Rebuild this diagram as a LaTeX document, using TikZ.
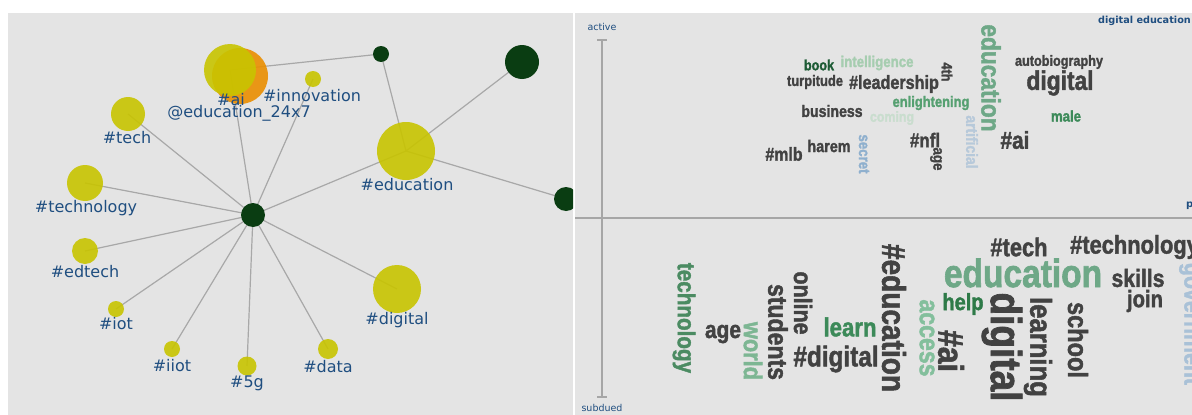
\documentclass[tikz,border=0pt]{standalone}
\usepackage{fontspec}
\setmainfont{DejaVu Sans}
\newfontfamily\cloudfont{Liberation Sans}[FakeStretch=0.85,FakeBold=1.6]
\usetikzlibrary{positioning,backgrounds}

\definecolor{panelgray}{HTML}{E4E4E4}
\definecolor{tagyellow}{HTML}{C8C400}
\definecolor{tagorange}{HTML}{EA8E00}
\definecolor{hubgreen}{HTML}{0A3D12}
\definecolor{linkgray}{HTML}{A8A8A8}
\definecolor{labelblue}{HTML}{1F4E80}
\definecolor{axisgray}{HTML}{A6A6A6}
\definecolor{cdark}{HTML}{424242}
\definecolor{cgreenD}{HTML}{1E5C36}
\definecolor{cgreenL}{HTML}{A6CDB0}
\definecolor{cgreenM}{HTML}{6EA887}
\definecolor{cgreenE}{HTML}{56A071}
\definecolor{cgreenP}{HTML}{C9DDCE}
\definecolor{cgreenN}{HTML}{3C8A59}
\definecolor{cgreenT}{HTML}{4B8B62}
\definecolor{cgreenW}{HTML}{7DB693}
\definecolor{cgreenA}{HTML}{83BF9C}
\definecolor{cgreenH}{HTML}{2E7A48}
\definecolor{cblueL}{HTML}{B7C9DA}
\definecolor{cblueM}{HTML}{8FB0CE}
\definecolor{cblueG}{HTML}{A9C1D7}

\tikzset{
  tag/.style={circle, inner sep=0pt, fill=tagyellow, fill opacity=0.9, minimum size=#1},
  user/.style={circle, inner sep=0pt, fill=tagorange, fill opacity=0.9, minimum size=#1},
  hub/.style={circle, inner sep=0pt, fill=hubgreen, minimum size=#1},
  tagname/.style={inner sep=0pt, text=labelblue, font=\fontsize{16}{16}\selectfont},
  link/.style={draw=linkgray, line width=1.2pt},
  wd/.style={inner sep=0pt, font=\cloudfont\bfseries\fontsize{#1}{#1}\selectfont},
  vwd/.style={wd=#1, rotate=-90},
  axisline/.style={draw=axisgray, line width=1.3pt},
  axisname/.style={inner sep=0pt, text=labelblue, font=\fontsize{9.5}{9.5}\selectfont},
}

\begin{document}
\begin{tikzpicture}[x=1pt,y=-1pt]
\useasboundingbox (0,0) rectangle (1192,415);
\begin{scope}[on background layer]
  \fill[panelgray] (8,13) rectangle (573,415);
  \fill[panelgray] (575,13) rectangle (1192,415);
\end{scope}

% hashtag network
\begin{scope}
  \clip (8,13) rectangle (573,415);
  \node[hub=24] (c) at (253,215) {};
  \node[user=56] (edu24) at (240,76) {};
  \node[tag=52] (ai) at (230,70) {};
  \node[hub=16] (n1) at (381,54) {};
  \node[hub=34] (n2) at (522,62) {};
  \node[hub=24] (n3) at (566,199) {};
  \node[tag=16] (innov) at (313,79) {};
  \node[tag=34] (tech) at (128,114) {};
  \node[tag=58] (edu) at (406,151) {};
  \node[tag=36] (technology) at (85,183) {};
  \node[tag=26] (edtech) at (85,251) {};
  \node[tag=16] (iot) at (116,309) {};
  \node[tag=16] (iiot) at (172,349) {};
  \node[tag=19] (fiveg) at (247,366) {};
  \node[tag=20] (data) at (328,349) {};
  \node[tag=48] (digital) at (397,289) {};

  \node[tagname] (ailbl) at (231,100) {\#ai};
  \node[tagname] (edu24lbl) at (239,113) {@education\_24x7};
  \node[tagname] (innovlbl) at (312,96) {\#innovation};
  \node[tagname] (techlbl) at (127,138) {\#tech};
  \node[tagname] (edulbl) at (407,185) {\#education};
  \node[tagname] (technologylbl) at (86,208) {\#technology};
  \node[tagname] (edtechlbl) at (85,272) {\#edtech};
  \node[tagname] (iotlbl) at (116,324) {\#iot};
  \node[tagname] (iiotlbl) at (172,366) {\#iiot};
  \node[tagname] (fiveglbl) at (247,383) {\#5g};
  \node[tagname] (datalbl) at (328,367) {\#data};
  \node[tagname] (digitallbl) at (397,320) {\#digital};
\end{scope}

\begin{scope}[on background layer]
  \foreach \t in {ai,innov,tech,edu,technology,edtech,iot,iiot,fiveg,data,digital}
    \draw[link] (c.center) -- (\t.center);
  \draw[link] (ai.center) -- (n1.center) -- (edu.center) -- (n2.center);
  \draw[link] (edu.center) -- (n3.center);
\end{scope}

% word cloud
\begin{scope}
  \clip (575,13) rectangle (1192,415);
  \coordinate (atop) at (602,40);
  \coordinate (abot) at (602,397);
  \coordinate (hleft) at (575,218);
  \coordinate (hright) at (1192,218);
  \draw[axisline] (atop) -- (abot);
  \draw[axisline] ([xshift=-5pt]atop) -- ([xshift=5pt]atop);
  \draw[axisline] ([xshift=-5pt]abot) -- ([xshift=5pt]abot);
  \draw[axisline] (hleft) -- (hright);
  \node[axisname] (active) at (602,27) {active};
  \node[axisname] (subdued) at (602,408) {subdued};
  \node[inner sep=0pt, anchor=east, text=labelblue, font=\bfseries\fontsize{9.7}{9.7}\selectfont] (title) at (1191,21) {digital education};
  \node[inner sep=0pt, anchor=west, text=labelblue, font=\bfseries\fontsize{10}{10}\selectfont] (pos) at (1186,206) {p};

  % active half
  \node[wd=14.8, text=cgreenD] (book) at (819,65) {book};
  \node[wd=15.6, text=cgreenL] (intelligence) at (877,63) {intelligence};
  \node[wd=15.2, text=cdark] (turpitude) at (815,82) {turpitude};
  \node[wd=19, text=cdark] (leadership) at (894,84) {\#leadership};
  \node[vwd=14.9, text=cdark] (fourth) at (947,72) {4th};
  \node[vwd=26.7, text=cgreenM] (educationA) at (991,78) {education};
  \node[wd=14.9, text=cdark] (autobiography) at (1059,62) {autobiography};
  \node[wd=26.8, text=cdark] (digitalA) at (1060,83) {digital};
  \node[wd=15.2, text=cgreenE] (enlightening) at (931,103) {enlightening};
  \node[wd=16.6, text=cdark] (business) at (832,111) {business};
  \node[wd=14.6, text=cgreenP] (coming) at (892,118) {coming};
  \node[vwd=16.3, text=cblueL] (artificial) at (972,142) {artificial};
  \node[wd=15.5, text=cgreenN] (male) at (1066,116) {male};
  \node[wd=19.9, text=cdark] (nfl) at (925,140) {\#nfl};
  \node[wd=24.5, text=cdark] (aiA) at (1015,140) {\#ai};
  \node[wd=16.9, text=cdark] (harem) at (829,146) {harem};
  \node[wd=18.7, text=cdark] (mlb) at (784,154) {\#mlb};
  \node[vwd=15.6, text=cblueM] (secret) at (864,154) {secret};
  \node[vwd=15.7, text=cdark] (ageA) at (936,159) {age};

  % subdued half
  \node[vwd=24.3, text=cgreenT] (technologyS) at (684,318) {technology};
  \node[wd=24.6, text=cdark] (ageS) at (723,334) {age};
  \node[vwd=25.6, text=cgreenW] (world) at (753,351) {world};
  \node[vwd=27.1, text=cdark] (students) at (778,332) {students};
  \node[vwd=25.2, text=cdark] (online) at (803,303) {online};
  \node[wd=26.1, text=cgreenN] (learn) at (850,327) {learn};
  \node[wd=28.6, text=cdark] (digitalH) at (836,359) {\#digital};
  \node[vwd=33, text=cdark] (educationH) at (894,318) {\#education};
  \node[vwd=27.2, text=cgreenA] (access) at (927,338) {access};
  \node[vwd=35.5, text=cdark] (aiS) at (951,351) {\#ai};
  \node[wd=23.5, text=cgreenH] (help) at (963,304) {help};
  \node[wd=39.4, text=cgreenM] (educationS) at (1023,273) {education};
  \node[wd=25.7, text=cdark] (techS) at (1019,247) {\#tech};
  \node[wd=25.7, text=cdark, anchor=west] (technologyH) at (1070,247) {\#technology};
  \node[vwd=43.5, text=cdark] (digitalS) at (1002,347) {digital};
  \node[vwd=30.2, text=cdark] (learning) at (1038,347) {learning};
  \node[vwd=27.7, text=cdark] (school) at (1078,340) {school};
  \node[wd=24.9, text=cdark] (skills) at (1138,278) {skills};
  \node[wd=23.8, text=cdark] (join) at (1145,301) {join};
  \node[vwd=25.1, text=cblueG] (government) at (1190,324) {government};
\end{scope}
\end{tikzpicture}
\end{document}
